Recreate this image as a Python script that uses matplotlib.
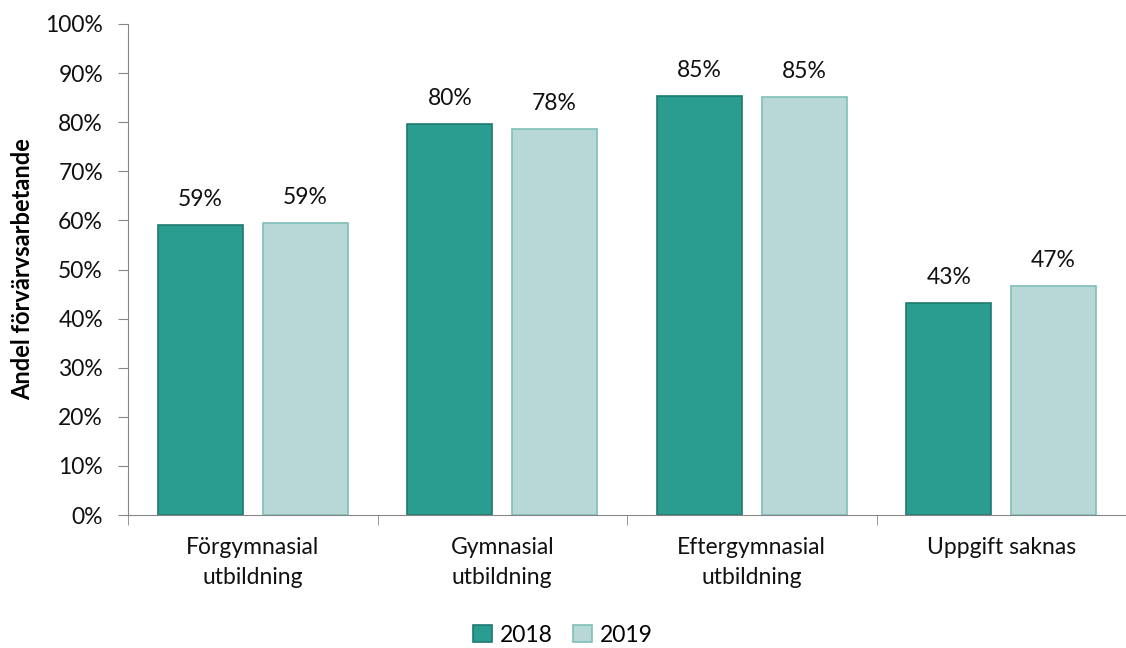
import numpy as np
import matplotlib.pyplot as plt

plt.rcParams['font.family'] = ['Lato', 'DejaVu Sans']

categories = ['Förgymnasial\nutbildning', 'Gymnasial\nutbildning',
              'Eftergymnasial\nutbildning', 'Uppgift saknas']
v2018 = [59.1, 79.6, 85.3, 43.2]
v2019 = [59.5, 78.6, 85.1, 46.6]
labels2018 = ['59%', '80%', '85%', '43%']
labels2019 = ['59%', '78%', '85%', '47%']

fig = plt.figure(figsize=(11.26, 6.48), dpi=100)
ax = fig.add_axes([128/1126, 1-515/648, 1-128/1126, (515-24)/648])

x = np.arange(len(categories))
w = 0.34
b1 = ax.bar(x - 0.21, v2018, w, color='#2a9d90', edgecolor='#1f7a6f', linewidth=1.2, label='2018')
b2 = ax.bar(x + 0.21, v2019, w, color='#b7d8d6', edgecolor='#7fbfb7', linewidth=1.2, label='2019')

fs = 16.5
for bars, labs in ((b1, labels2018), (b2, labels2019)):
    for r, t in zip(bars, labs):
        ax.text(r.get_x() + r.get_width()/2, r.get_height() + 3, t,
                ha='center', va='bottom', fontsize=fs, color='#111111')

ax.set_xlim(-0.5, 3.5)
ax.set_ylim(0, 100)
ax.set_yticks(np.arange(0, 101, 10))
ax.set_yticklabels([f'{v}%' for v in range(0, 101, 10)], fontsize=fs, color='#111111')
ax.set_xticks(x)
ax.set_xticklabels(categories, fontsize=fs, linespacing=1.5, color='#111111')
ax.tick_params(axis='x', which='major', length=0, pad=16)
ax.set_xticks(np.arange(-0.5, 3.6, 1), minor=True)
ax.tick_params(axis='x', which='minor', length=7, color='#868686')
ax.tick_params(axis='y', length=7, color='#868686', pad=11)

for s in ['top', 'right']:
    ax.spines[s].set_visible(False)
for s in ['left', 'bottom']:
    ax.spines[s].set_color('#868686')

ax.set_ylabel('Andel förvärvsarbetande', fontsize=17, fontweight='bold', labelpad=8)

fig.legend(handles=[b1, b2], loc='center', bbox_to_anchor=(0.5, 1-635/648), ncol=2,
           frameon=False, fontsize=fs, handlelength=0.8, handleheight=0.8,
           handletextpad=0.35, columnspacing=0.9)

fig.savefig('out.png', dpi=100)
